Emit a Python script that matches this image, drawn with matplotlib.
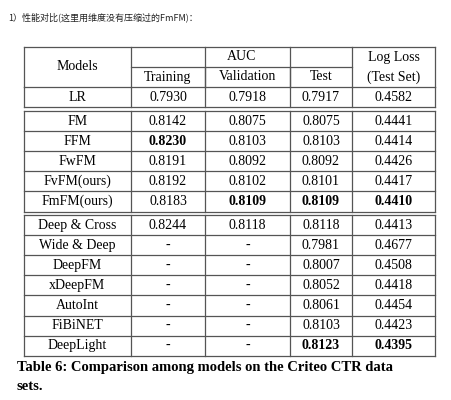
import matplotlib
matplotlib.use("Agg")
import matplotlib.pyplot as plt

models = ["LR","FM","FFM","FwFM","FvFM(ours)","FmFM(ours)","Deep & Cross","Wide & Deep","DeepFM","xDeepFM","AutoInt","FiBiNET","DeepLight"]
training = ["0.7930","0.8142","0.8230","0.8191","0.8192","0.8183","0.8244","-","-","-","-","-","-"]
validation = ["0.7918","0.8075","0.8103","0.8092","0.8102","0.8109","0.8118","-","-","-","-","-","-"]
test = ["0.7917","0.8075","0.8103","0.8092","0.8101","0.8109","0.8118","0.7981","0.8007","0.8052","0.8061","0.8103","0.8123"]
logloss = ["0.4582","0.4441","0.4414","0.4426","0.4417","0.4410","0.4413","0.4677","0.4508","0.4418","0.4454","0.4423","0.4395"]
bold = {(2,1),(5,2),(5,3),(5,4),(12,3),(12,4)}

fig = plt.figure(figsize=(4.52,4.0), dpi=100)
ax = fig.add_axes([0,0,1,1])
ax.set_xlim(0,452); ax.set_ylim(400,0); ax.axis("off")
serif = ["Liberation Serif"]
lc = "#555555"; lw = 0.9
xs = [24,131,205,290,352,435]
fs = 10

ax.text(8,17,"1）性能对比(这里用维度没有压缩过的FmFM)：",fontsize=6.5,family=["Noto Sans CJK SC","DejaVu Sans"],va="center",color="#222222")

def hl(y,x0=24,x1=435): ax.plot([x0,x1],[y,y],color=lc,lw=lw)
def vl(x,y0,y1): ax.plot([x,x],[y0,y1],color=lc,lw=lw)

# header
top=47; mid=67; hb=87
hl(top); hl(mid,131,352); hl(hb)
for x in xs: vl(x,top,hb)
for x in xs[1:-1]:
    if x in (131,352): continue
    vl(x,mid,hb)
ax.text((24+131)/2,(top+hb)/2,"Models",fontsize=fs,family=serif,ha="center",va="center")
ax.text((131+352)/2,(top+mid)/2,"AUC",fontsize=fs,family=serif,ha="center",va="center")
for i,t in enumerate(["Training","Validation","Test"]):
    ax.text((xs[i+1]+xs[i+2])/2,(mid+hb)/2,t,fontsize=fs,family=serif,ha="center",va="center")
ax.text((352+435)/2,(top+mid)/2,"Log Loss",fontsize=fs,family=serif,ha="center",va="center")
ax.text((352+435)/2,(mid+hb)/2,"(Test Set)",fontsize=fs,family=serif,ha="center",va="center")

groups = [(0,1,87),(1,6,111),(6,13,215)]
rh = 20.1
for g0,g1,y0 in groups:
    if g0>0: hl(y0)
    for r in range(g0,g1):
        yt = y0+(r-g0)*rh; yb=yt+rh
        hl(yb)
        vals=[models[r],training[r],validation[r],test[r],logloss[r]]
        for c,v in enumerate(vals):
            ax.text((xs[c]+xs[c+1])/2,(yt+yb)/2,v,fontsize=fs,family=serif,ha="center",va="center",
                    fontweight="bold" if (r,c) in bold else "normal")
    yend = y0+(g1-g0)*rh
    for x in xs: vl(x,y0,yend)

ax.text(17,367,"Table 6: Comparison among models on the Criteo CTR data",fontsize=10.5,family=serif,fontweight="bold",va="center")
ax.text(17,386,"sets.",fontsize=10.5,family=serif,fontweight="bold",va="center")
fig.savefig("out.png",dpi=100)
